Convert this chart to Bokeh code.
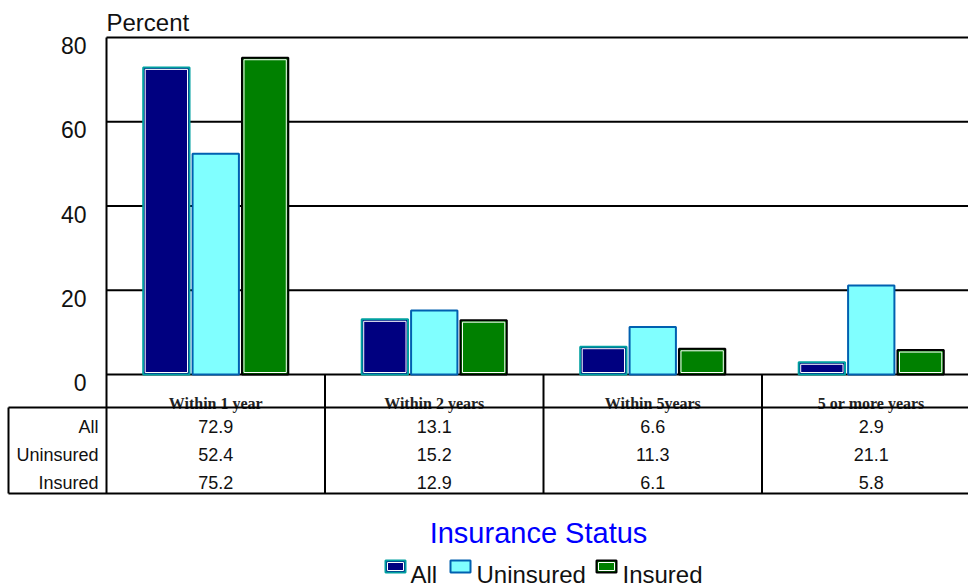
from bokeh.plotting import figure
from bokeh.models import Range1d
from bokeh.core.properties import value
from bokeh.embed import file_html
from bokeh.resources import INLINE

# ---- data -------------------------------------------------------------
categories = ["Within 1 year", "Within 2 years", "Within 5years", "5 or more years"]
series_names = ["All", "Uninsured", "Insured"]
all_vals = [72.9, 13.1, 6.6, 2.9]
uninsured_vals = [52.4, 15.2, 11.3, 21.1]
insured_vals = [75.2, 12.9, 6.1, 5.8]
y_ticks = [0, 20, 40, 60, 80]
y_tick_labels = ["0", "20", "40", "60", "80"]

# ---- canvas geometry ----------------------------------------------------
W, H = 968, 588
X0_PX = 106          # left edge of the first category column
CAT_PX = 218.5       # width of one category column
Y0_PX = 374          # baseline (0 %)
UNIT_PX = (374 - 37) / 80.0


def xd(px):
    return (px - X0_PX) / CAT_PX


def yd(px):
    return (Y0_PX - px) / UNIT_PX


SANS = value("Liberation Sans")
SERIF = value("Liberation Serif")

p = figure(width=W, height=H, output_backend="svg", toolbar_location=None,
           x_range=Range1d(xd(0), xd(W)), y_range=Range1d(yd(H), yd(0)),
           x_axis_type=None, y_axis_type=None, min_border=0,
           outline_line_color=None, background_fill_color="white",
           border_fill_color="white")

x_end = xd(W)
n = len(categories)

# horizontal rules at each tick value
p.segment(x0=[0] * len(y_ticks), x1=[x_end] * len(y_ticks), y0=y_ticks, y1=y_ticks,
          line_color="black", line_width=2)

# y tick labels
p.text(x=[xd(86)] * len(y_ticks), y=y_ticks, text=y_tick_labels, text_font=SANS,
       text_font_size="23px", text_align="right", text_baseline="middle",
       y_offset=8, text_color="#111111")
p.text(x=[0], y=[yd(21.5)], text=["Percent"], text_font=SANS, text_font_size="24px",
       text_align="left", text_baseline="middle", text_color="#111111")

# ---- bars ---------------------------------------------------------------
BAR_W = 0.212
offsets = [-0.226, 0.0, 0.226]
fills = ["#000080", "#80FFFF", "#008000"]
edges = ["#00A0A0", "#0060B0", "#000000"]
vals_list = [all_vals, uninsured_vals, insured_vals]
for k, vals in enumerate(vals_list):
    xs = [i + 0.5 + offsets[k] for i in range(n)]
    p.vbar(x=xs, top=vals, bottom=0, width=BAR_W, fill_color=fills[k],
           line_color=edges[k], line_width=2)
    if k != 1:
        inset_x = 4.0 / CAT_PX
        inset_y = 2.0 / UNIT_PX
        p.vbar(x=xs, top=[v - inset_y for v in vals], bottom=inset_y,
               width=BAR_W - inset_x, fill_color=None, line_color="white",
               line_width=1)

# ---- data table under the chart ----------------------------------------
cat_centers = [i + 0.5 for i in range(n)]
p.text(x=cat_centers, y=[yd(403)] * n, text=categories, text_font=SERIF,
       text_font_size="16px", text_font_style="bold", text_align="center",
       text_baseline="middle", text_color="#222222")

row_mid_px = [426, 454, 482]
for k, vals in enumerate(vals_list):
    ym = yd(row_mid_px[k])
    p.text(x=[xd(98)], y=[ym], text=[series_names[k]], text_font=SANS,
           text_font_size="18px", text_align="right", text_baseline="middle",
           text_color="#111111")
    p.text(x=cat_centers, y=[ym] * n, text=[f"{v:.1f}" for v in vals],
           text_font=SANS, text_font_size="18px", text_align="center",
           text_baseline="middle", text_color="#111111")

# table rules
p.segment(x0=[xd(8), xd(8)], x1=[x_end, x_end], y0=[yd(407), yd(493)],
          y1=[yd(407), yd(493)], line_color="black", line_width=2)
p.segment(x0=[xd(8)], x1=[xd(8)], y0=[yd(407)], y1=[yd(493)],
          line_color="black", line_width=2)
p.segment(x0=[0], x1=[0], y0=[y_ticks[-1]], y1=[yd(493)], line_color="black",
          line_width=2)
p.segment(x0=[1, 2, 3], x1=[1, 2, 3], y0=[0, 0, 0], y1=[yd(493)] * 3,
          line_color="black", line_width=2)

# ---- legend -------------------------------------------------------------
p.text(x=[xd(538)], y=[yd(532)], text=["Insurance Status"], text_font=SANS,
       text_font_size="29px", text_align="center", text_baseline="middle",
       text_color="#0000FF")

sw_left_px = [385, 450, 596]
lab_left_px = [410, 476, 622]
p.quad(left=[xd(x) for x in sw_left_px], right=[xd(x + 20) for x in sw_left_px],
       top=[yd(560)] * 3, bottom=[yd(572)] * 3, fill_color=fills,
       line_color=edges, line_width=2)
p.quad(left=[xd(x + 2) for x in (sw_left_px[0], sw_left_px[2])],
       right=[xd(x + 18) for x in (sw_left_px[0], sw_left_px[2])],
       top=[yd(562)] * 2, bottom=[yd(570)] * 2, fill_color=None,
       line_color="white", line_width=1)
p.text(x=[xd(x) for x in lab_left_px], y=[yd(574)] * 3, text=series_names,
       text_font=SANS, text_font_size="24px", text_align="left",
       text_baseline="middle", text_color="#111111")

open("out.html", "w").write(file_html(p, INLINE))
